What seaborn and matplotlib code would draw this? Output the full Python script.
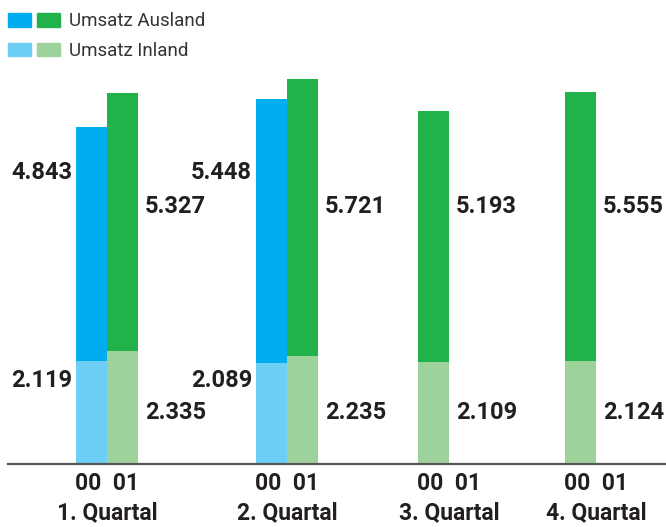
import matplotlib
matplotlib.use("Agg")
import matplotlib.pyplot as plt
from matplotlib.patches import Patch
from matplotlib.legend_handler import HandlerTuple
import matplotlib.transforms as mtransforms
import pandas as pd
import seaborn as sns

# data
quarters = ["1. Quartal", "2. Quartal", "3. Quartal", "4. Quartal"]
years = ["00", "01"]
inland_00 = [2119, 2089, None, None]
ausland_00 = [4843, 5448, None, None]
inland_01 = [2335, 2235, 2109, 2124]
ausland_01 = [5327, 5721, 5193, 5555]

# colours
dark = {"00": "#00aeef", "01": "#22b24c"}
light = {"00": "#6dcff6", "01": "#9dd39b"}
text_col = "#231f20"

# layout (x in pixel-like units of the figure width)
group_left = [76, 256, 418, 565]
bar_w = 31
label_row = {("00", "aus"): 0.629, ("00", "in"): 0.179,
             ("01", "aus"): 0.554, ("01", "in"): 0.110}

rows = []
for i, q in enumerate(quarters):
    series = {"00": (inland_00[i], ausland_00[i]), "01": (inland_01[i], ausland_01[i])}
    slot = 0
    for year in years:
        inl, aus = series[year]
        if inl is None:
            continue
        rows.append(dict(quarter=q, year=year, pos=group_left[i] + bar_w * (slot + 0.5),
                         inland=inl, ausland=aus, total=inl + aus))
        slot += 1
df = pd.DataFrame(rows)

sns.set_theme(style="white")
plt.rcParams["font.family"] = ["Roboto", "DejaVu Sans"]

fig = plt.figure(figsize=(6.66, 5.27), dpi=100)
ax = fig.add_axes([8 / 666, 63 / 527, 658 / 666, 464 / 527])

sns.barplot(data=df, x="pos", y="total", hue="year", palette=dark, native_scale=True,
            width=1, dodge=False, errorbar=None, saturation=1, legend=False, ax=ax,
            linewidth=0)
sns.barplot(data=df, x="pos", y="inland", hue="year", palette=light, native_scale=True,
            width=1, dodge=False, errorbar=None, saturation=1, legend=False, ax=ax,
            linewidth=0)

ax.set_xlim(8, 666)
ax.set_ylim(0, 9589)

# value labels
blend = mtransforms.blended_transform_factory(ax.transData, ax.transAxes)
fmt = lambda v: f"{v:,}".replace(",", ".")
for _, r in df.iterrows():
    if r["year"] == "00":
        x, ha = r["pos"] - bar_w / 2 - 4, "right"
    else:
        x, ha = r["pos"] + bar_w / 2 + 7, "left"
    for part, key in (("aus", "ausland"), ("in", "inland")):
        ax.text(x, label_row[(r["year"], part)], fmt(int(r[key])), ha=ha, va="center",
                transform=blend, fontsize=17, fontweight="bold", color=text_col)

# ticks
centers = [g + bar_w for g in group_left]
ax.set_xticks(centers)
ax.set_xticklabels([f"00  01\n{q}" for q in quarters], fontsize=16.5, fontweight="bold",
                   color=text_col, linespacing=1.3)
ax.tick_params(axis="x", length=0, pad=6)
ax.set_yticks([])
ax.set_xlabel("")
ax.set_ylabel("")
for s in ["top", "left", "right"]:
    ax.spines[s].set_visible(False)
ax.spines["bottom"].set_color("#555555")
ax.spines["bottom"].set_linewidth(1.6)

# legend
handles = [(Patch(color=dark["00"]), Patch(color=dark["01"])),
           (Patch(color=light["00"]), Patch(color=light["01"]))]
fig.legend(handles, ["Umsatz Ausland", "Umsatz Inland"],
           handler_map={tuple: HandlerTuple(ndivide=None, pad=0.37)},
           loc="upper left", bbox_to_anchor=(8 / 666, 1 - 12.5 / 527),
           bbox_transform=fig.transFigure, frameon=False, fontsize=13.5,
           handlelength=2.77, handleheight=0.7, handletextpad=0.48,
           labelspacing=0.6, borderpad=0, borderaxespad=0, labelcolor="#333333")

fig.savefig("out.png", dpi=100)
